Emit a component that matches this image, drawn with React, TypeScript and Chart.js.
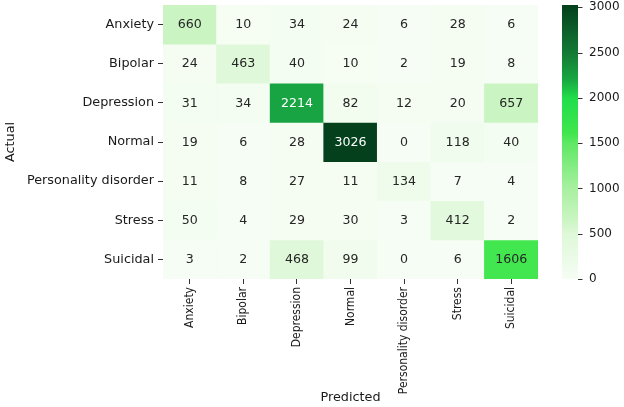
import React, { useEffect, useRef } from "react";
import { Chart, registerables } from "chart.js";

Chart.register(...registerables);

const actualLabels = ["Anxiety", "Bipolar", "Depression", "Normal", "Personality disorder", "Stress", "Suicidal"];
const predictedLabels = ["Anxiety", "Bipolar", "Depression", "Normal", "Personality disorder", "Stress", "Suicidal"];

const anxietyRow = [660, 10, 34, 24, 6, 28, 6];
const bipolarRow = [24, 463, 40, 10, 2, 19, 8];
const depressionRow = [31, 34, 2214, 82, 12, 20, 657];
const normalRow = [19, 6, 28, 3026, 0, 118, 40];
const personalityRow = [11, 8, 27, 11, 134, 7, 4];
const stressRow = [50, 4, 29, 30, 3, 412, 2];
const suicidalRow = [3, 2, 468, 99, 0, 6, 1606];

const matrixRows = [anxietyRow, bipolarRow, depressionRow, normalRow, personalityRow, stressRow, suicidalRow];
const colorbarTicks = [0, 500, 1000, 1500, 2000, 2500, 3000];

const VMAX = Math.max(...matrixRows.flat());
const FONT = '"DejaVu Sans", "Noto Sans", sans-serif';
const COND_FONT = '"DejaVu Sans Condensed", "DejaVu Sans", sans-serif';

const COLOR_STOPS: [number, number[]][] = [
  [0, [246, 253, 244]],
  [0.04, [240, 252, 237]],
  [0.165, [222, 248, 216]],
  [0.217, [202, 245, 194]],
  [0.33, [168, 240, 160]],
  [0.5, [92, 232, 98]],
  [0.53, [66, 230, 78]],
  [0.66, [32, 222, 74]],
  [0.73, [24, 165, 66]],
  [0.826, [20, 122, 54]],
  [1, [4, 64, 28]],
];

function colorFor(v: number): number[] {
  const f = Math.max(0, Math.min(1, v / VMAX));
  for (let i = 1; i < COLOR_STOPS.length; i++) {
    const [f1, c1] = COLOR_STOPS[i];
    const [f0, c0] = COLOR_STOPS[i - 1];
    if (f <= f1) {
      const t = (f - f0) / (f1 - f0 || 1);
      return c0.map((a, k) => Math.round(a + (c1[k] - a) * t));
    }
  }
  return COLOR_STOPS[COLOR_STOPS.length - 1][1];
}

function lum(rgb: number[]) {
  const lin = rgb.map((c) => {
    const s = c / 255;
    return s <= 0.03928 ? s / 12.92 : Math.pow((s + 0.055) / 1.055, 2.4);
  });
  return 0.2126 * lin[0] + 0.7152 * lin[1] + 0.0722 * lin[2];
}

const heatPlugin = {
  id: "heatAnnot",
  afterDatasetsDraw(chart: any) {
    const ctx = chart.ctx;
    ctx.save();
    ctx.font = `12.6px ${FONT}`;
    ctx.textAlign = "center";
    ctx.textBaseline = "middle";
    chart.data.datasets.forEach((_ds: any, r: number) => {
      const meta = chart.getDatasetMeta(r);
      meta.data.forEach((el: any, c: number) => {
        const v = matrixRows[r][c];
        const p = el.getCenterPoint();
        ctx.fillStyle = lum(colorFor(v)) > 0.408 ? "#262626" : "#ffffff";
        ctx.fillText(String(v), p.x, p.y + 0.5);
      });
    });
    const s = chart.scales.cbar;
    const x0 = s.left + 24;
    const w = 16;
    const yTop = s.getPixelForValue(VMAX);
    const yBot = s.getPixelForValue(0);
    const g = ctx.createLinearGradient(0, yBot, 0, yTop);
    COLOR_STOPS.forEach(([f, rgb]) => g.addColorStop(f, `rgb(${rgb.join(",")})`));
    ctx.fillStyle = g;
    ctx.fillRect(x0, yTop, w, yBot - yTop);
    ctx.strokeStyle = "#333";
    ctx.lineWidth = 1;
    s.ticks.forEach((t: any) => {
      const y = Math.round(s.getPixelForValue(t.value)) + 0.5;
      ctx.beginPath();
      ctx.moveTo(x0 + w, y);
      ctx.lineTo(x0 + w + 4.5, y);
      ctx.stroke();
    });
    ctx.restore();
  },
};

export default function App() {
  const ref = useRef<HTMLCanvasElement>(null);
  useEffect(() => {
    if (!ref.current) return;
    const datasets = matrixRows.map((row, r) => ({
      label: actualLabels[r],
      data: row.map(() => [r - 0.5, r + 0.5]),
      backgroundColor: row.map((v) => `rgb(${colorFor(v).join(",")})`),
      borderWidth: 0,
      grouped: false,
      barPercentage: 1,
      categoryPercentage: 1,
    }));
    const chart = new Chart(ref.current, {
      type: "bar",
      data: { labels: predictedLabels, datasets: datasets as any },
      plugins: [heatPlugin],
      options: {
        animation: false,
        responsive: true,
        maintainAspectRatio: false,
        layout: { padding: { top: 5, left: 0, right: 0, bottom: 0 } },
        plugins: { legend: { display: false }, tooltip: { enabled: false } },
        scales: {
          x: {
            type: "category",
            offset: true,
            grid: { offset: false, drawOnChartArea: false, drawTicks: true, tickLength: 5, color: "#333" },
            border: { display: false },
            ticks: {
              autoSkip: false,
              maxRotation: 90,
              minRotation: 90,
              padding: 3,
              color: "#1a1a1a",
              font: { family: COND_FONT, size: 12 },
            },
            title: {
              display: true,
              text: "Predicted",
              color: "#1a1a1a",
              font: { family: FONT, size: 12.8 },
              padding: { top: 0, bottom: 2 },
            },
            afterFit: (s: any) => {
              s.height = 128;
              s.paddingLeft = 0;
              s.paddingRight = 0;
            },
          } as any,
          y: {
            type: "linear",
            min: -0.5,
            max: 6.5,
            reverse: true,
            afterBuildTicks: (s: any) => {
              s.ticks = actualLabels.map((_, i) => ({ value: i }));
            },
            grid: { drawOnChartArea: false, drawTicks: true, tickLength: 5, color: "#333" },
            border: { display: false },
            ticks: {
              autoSkip: false,
              padding: 4,
              color: "#1a1a1a",
              font: { family: FONT, size: 12.8 },
              callback: (v: any) => actualLabels[Number(v)] ?? "",
            },
            title: {
              display: true,
              text: "Actual",
              color: "#1a1a1a",
              font: { family: FONT, size: 12.8 },
              padding: { top: 3, bottom: 0 },
            },
            afterFit: (s: any) => {
              s.width = 163;
              s.paddingTop = 0;
              s.paddingBottom = 0;
            },
          } as any,
          cbar: {
            type: "linear",
            axis: "y",
            position: "right",
            min: 0,
            max: VMAX,
            afterBuildTicks: (s: any) => {
              s.ticks = colorbarTicks.map((v) => ({ value: v }));
            },
            grid: { display: false, drawTicks: false, drawOnChartArea: false },
            border: { display: false },
            ticks: {
              autoSkip: false,
              padding: 51,
              color: "#1a1a1a",
              font: { family: FONT, size: 12 },
              callback: (v: any) => String(v),
            },
            afterFit: (s: any) => {
              s.width = 86;
              s.paddingTop = 0;
              s.paddingBottom = 0;
            },
          } as any,
        },
      },
    });
    return () => chart.destroy();
  }, []);
  return (
    <div style={{ position: "absolute", left: 0, top: 0, width: 624, height: 407, background: "#fff" }}>
      <canvas ref={ref} />
    </div>
  );
}
